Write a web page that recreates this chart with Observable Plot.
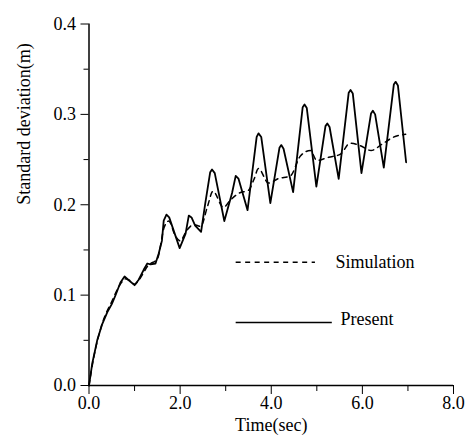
<!DOCTYPE html>
<html>
<head>
<meta charset="utf-8">
<script src="https://cdn.jsdelivr.net/npm/d3@7"></script>
<script src="https://cdn.jsdelivr.net/npm/@observablehq/plot@0.6"></script>
<style>
  html, body { margin: 0; padding: 0; background: #fff; }
  svg { display: block; }
</style>
</head>
<body>
<div id="chart"></div>
<script>
// Present (solid) series
const presentT = [0, 0.07, 0.18, 0.29, 0.40, 0.50, 0.58, 0.69, 0.78, 0.86, 1.0, 1.09, 1.2, 1.28, 1.35, 1.46, 1.53, 1.6, 1.64, 1.70, 1.76, 1.99, 2.12, 2.19, 2.25, 2.33, 2.46, 2.55, 2.66, 2.70, 2.76, 2.97, 3.14, 3.22, 3.28, 3.48, 3.68, 3.72, 3.78, 3.98, 4.18, 4.22, 4.27, 4.48, 4.69, 4.73, 4.78, 4.99, 5.19, 5.23, 5.28, 5.48, 5.70, 5.74, 5.79, 5.98, 6.19, 6.23, 6.28, 6.47, 6.69, 6.73, 6.78, 6.96];
const presentV = [0, 0.024, 0.05, 0.068, 0.081, 0.090, 0.0996, 0.114, 0.1206, 0.117, 0.111, 0.117, 0.128, 0.135, 0.134, 0.135, 0.146, 0.160, 0.1825, 0.189, 0.186, 0.152, 0.168, 0.188, 0.186, 0.177, 0.170, 0.201, 0.236, 0.239, 0.235, 0.182, 0.213, 0.232, 0.229, 0.194, 0.275, 0.279, 0.275, 0.2017, 0.263, 0.266, 0.262, 0.214, 0.308, 0.311, 0.307, 0.220, 0.287, 0.290, 0.286, 0.2286, 0.324, 0.327, 0.323, 0.235, 0.301, 0.304, 0.300, 0.241, 0.333, 0.336, 0.332, 0.247];

// Simulation (dashed) series
const simT = [0, 0.1, 0.3, 0.5, 0.7, 0.8, 0.9, 1.0, 1.1, 1.3, 1.5, 1.65, 1.75, 1.9, 2.0, 2.15, 2.3, 2.45, 2.6, 2.72, 2.95, 3.1, 3.3, 3.5, 3.62, 3.72, 3.94, 4.16, 4.42, 4.64, 4.86, 5.0, 5.26, 5.52, 5.73, 5.95, 6.19, 6.43, 6.68, 6.95];
const simV = [0, 0.03, 0.07, 0.093, 0.113, 0.118, 0.116, 0.112, 0.117, 0.133, 0.140, 0.175, 0.182, 0.165, 0.160, 0.172, 0.178, 0.176, 0.198, 0.215, 0.197, 0.205, 0.213, 0.216, 0.228, 0.240, 0.224, 0.229, 0.232, 0.254, 0.260, 0.249, 0.2525, 0.256, 0.268, 0.2655, 0.260, 0.267, 0.2747, 0.278];

// Axis ticks
const xMajor = [0, 2, 4, 6, 8];
const xMinor = [1, 3, 5, 7];
const yMajor = [0, 0.1, 0.2, 0.3, 0.4];
const yMinor = [0.05, 0.15, 0.25, 0.35];

// Legend
const legendLabels = ["Simulation", "Present"];

const present = presentT.map((t, i) => ({t, v: presentV[i]}));
const simulation = simT.map((t, i) => ({t, v: simV[i]}));

const legendSim = [{label: legendLabels[0], y: 0.1364, x1: 3.23, x2: 4.97, tx: 5.41, ty: 0.1364}];
const legendPres = [{label: legendLabels[1], y: 0.0697, x1: 3.23, x2: 5.34, tx: 5.52, ty: 0.0735}];

const fmt = d3.format(".1f");
const FF = "'Times New Roman', Tinos, 'Liberation Serif', 'DejaVu Serif', serif";
const FS = 18;

const chart = Plot.plot({
  width: 470,
  height: 439,
  marginLeft: 88.5,
  marginRight: 17,
  marginTop: 23.5,
  marginBottom: 54,
  style: {background: "#fff", color: "#000"},
  x: {domain: [0, 8]},
  y: {domain: [0, 0.4]},
  marks: [
    Plot.axisX({ticks: xMajor, tickSize: 9, tickPadding: 2, tickFormat: fmt, label: null, fontSize: FS, fontFamily: FF}),
    Plot.axisX({ticks: xMinor, tickSize: 6, text: null, label: null}),
    Plot.axisY({ticks: yMajor, tickSize: 8, tickPadding: 5, tickFormat: fmt, label: null, fontSize: FS, fontFamily: FF}),
    Plot.axisY({ticks: yMinor, tickSize: 5, text: null, label: null}),
    Plot.text(["Time(sec)"], {frameAnchor: "bottom", dy: 45, fontSize: FS, fontFamily: FF}),
    Plot.text(["Standard deviation(m)"], {frameAnchor: "left", dx: -65, rotate: -90, fontSize: FS, fontFamily: FF}),
    Plot.ruleX([0], {strokeWidth: 1.5}),
    Plot.ruleY([0], {strokeWidth: 1.5}),
    Plot.line(simulation, {x: "t", y: "v", stroke: "#000", strokeWidth: 1.5, strokeDasharray: "5,4.5", curve: "monotone-x"}),
    Plot.line(present, {x: "t", y: "v", stroke: "#000", strokeWidth: 1.8, curve: "linear", strokeLinejoin: "round"}),
    Plot.ruleY(legendSim, {y: "y", x1: "x1", x2: "x2", stroke: "#000", strokeWidth: 1.5, strokeDasharray: "5,4.5"}),
    Plot.ruleY(legendPres, {y: "y", x1: "x1", x2: "x2", stroke: "#000", strokeWidth: 1.5}),
    Plot.text(legendSim, {x: "tx", y: "ty", text: "label", textAnchor: "start", fontSize: FS, fontFamily: FF}),
    Plot.text(legendPres, {x: "tx", y: "ty", text: "label", textAnchor: "start", fontSize: FS, fontFamily: FF})
  ]
});

d3.select(chart).selectAll("text").style("font-family", FF);

document.getElementById("chart").appendChild(chart);
</script>
</body>
</html>
